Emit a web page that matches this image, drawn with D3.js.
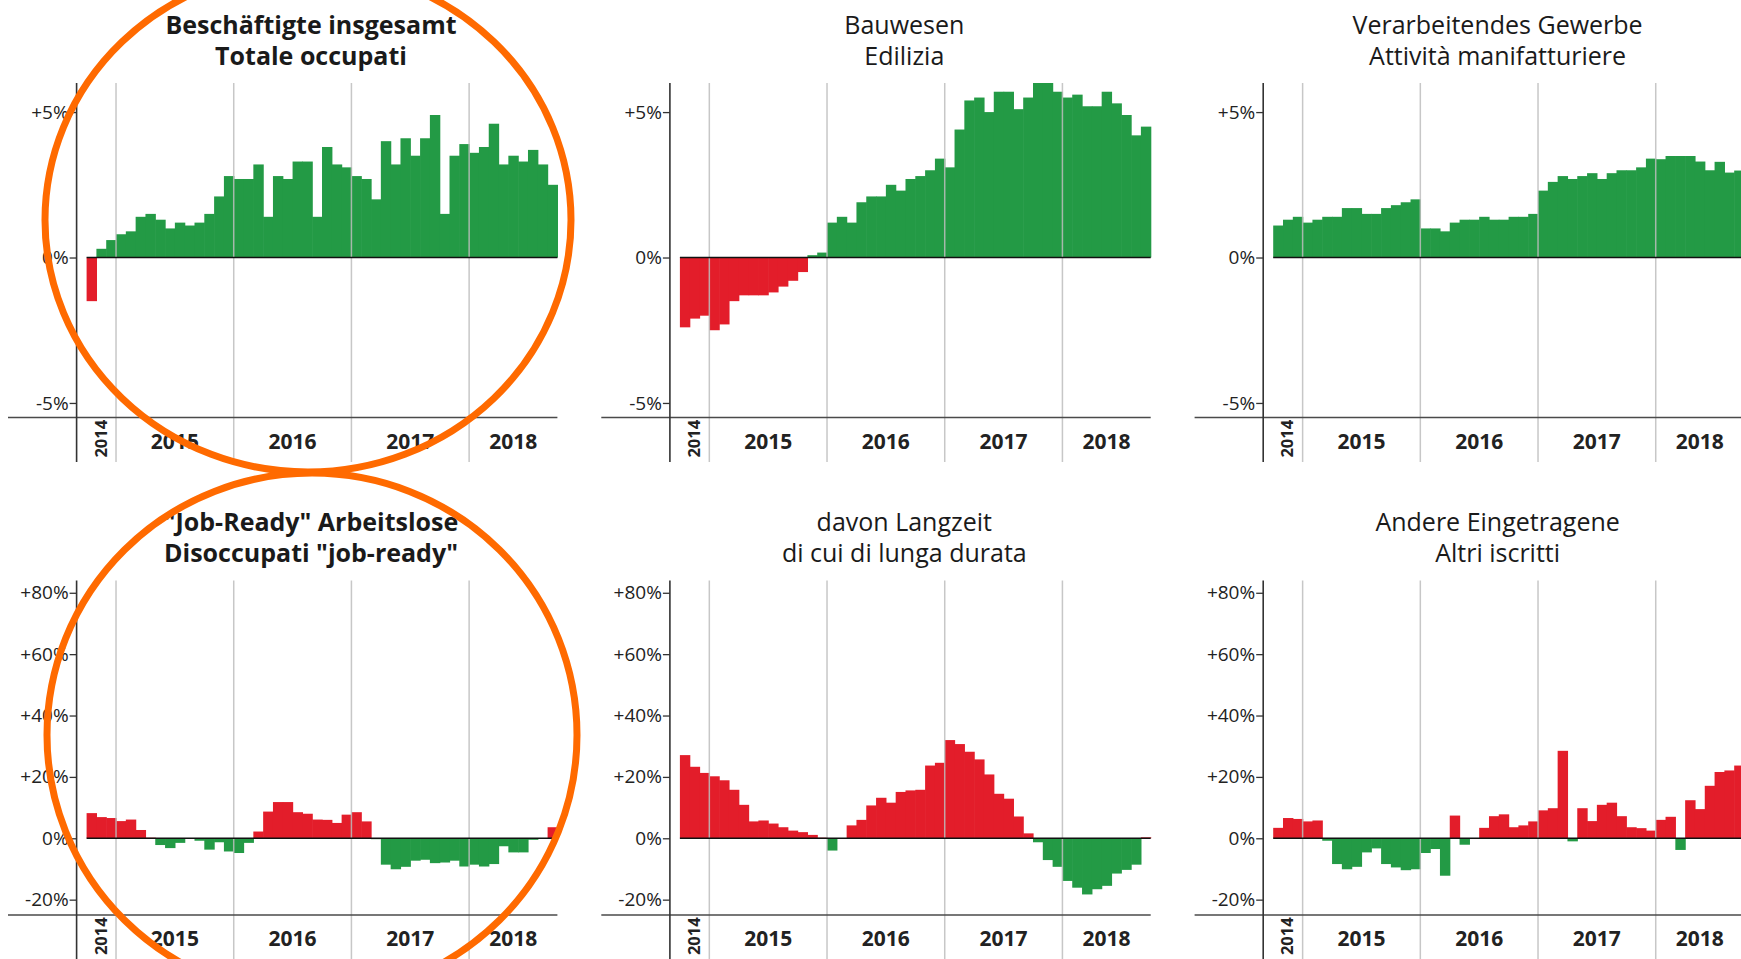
<!DOCTYPE html>
<html>
<head>
<meta charset="utf-8">
<script src="https://cdn.jsdelivr.net/npm/d3@7"></script>
<style>
html,body{margin:0;padding:0;background:#fff;overflow:hidden}
svg{display:block}
</style>
</head>
<body>
<svg id="chart" width="1741" height="959"></svg>
<script>
// ---------- data ----------
const months = [
  "2014-10","2014-11","2014-12",
  "2015-01","2015-02","2015-03","2015-04","2015-05","2015-06","2015-07","2015-08","2015-09","2015-10","2015-11","2015-12",
  "2016-01","2016-02","2016-03","2016-04","2016-05","2016-06","2016-07","2016-08","2016-09","2016-10","2016-11","2016-12",
  "2017-01","2017-02","2017-03","2017-04","2017-05","2017-06","2017-07","2017-08","2017-09","2017-10","2017-11","2017-12",
  "2018-01","2018-02","2018-03","2018-04","2018-05","2018-06","2018-07","2018-08","2018-09"
];
const years = ["2014","2015","2016","2017","2018"];

const ticksEmployment = [-5, 0, 5];
const ticksUnemployment = [-20, 0, 20, 40, 60, 80];
const domainEmployment = [-5.5, 6];
const domainUnemployment = [-25, 84];

// Beschäftigte insgesamt / Totale occupati (% vs. Vorjahr)
const employmentTotal = [
  -1.5, 0.3, 0.6,
  0.8, 0.9, 1.4, 1.5, 1.3, 1.0, 1.2, 1.1, 1.2, 1.5, 2.1, 2.8,
  2.7, 2.7, 3.2, 1.4, 2.8, 2.7, 3.3, 3.3, 1.4, 3.8, 3.2, 3.1,
  2.8, 2.7, 2.0, 4.0, 3.2, 4.1, 3.5, 4.1, 4.9, 1.5, 3.5, 3.9,
  3.6, 3.8, 4.6, 3.2, 3.5, 3.3, 3.7, 3.2, 2.5
];
// Bauwesen / Edilizia
const construction = [
  -2.4, -2.1, -2.0,
  -2.5, -2.3, -1.5, -1.3, -1.3, -1.3, -1.2, -1.0, -0.8, -0.5, 0.08, 0.17,
  1.2, 1.4, 1.2, 1.9, 2.1, 2.1, 2.5, 2.3, 2.7, 2.8, 3.0, 3.4,
  3.1, 4.4, 5.4, 5.5, 5.0, 5.7, 5.7, 5.1, 5.5, 6.0, 6.0, 5.7,
  5.5, 5.6, 5.2, 5.2, 5.7, 5.3, 4.9, 4.2, 4.5
];
// Verarbeitendes Gewerbe / Attività manifatturiere
const manufacturing = [
  1.1, 1.3, 1.4,
  1.2, 1.3, 1.4, 1.4, 1.7, 1.7, 1.5, 1.5, 1.7, 1.8, 1.9, 2.0,
  1.0, 1.0, 0.9, 1.2, 1.3, 1.3, 1.4, 1.3, 1.3, 1.4, 1.4, 1.5,
  2.3, 2.6, 2.8, 2.7, 2.8, 2.9, 2.7, 2.9, 3.0, 3.0, 3.1, 3.4,
  3.38, 3.49, 3.49, 3.49, 3.3, 3.0, 3.29, 2.92, 2.99
];
// "Job-Ready" Arbeitslose / Disoccupati "job-ready"
const jobReady = [
  8.2, 6.9, 6.6,
  5.6, 6.1, 2.7, 0.2, -2.2, -3.2, -1.5, -0.2, -0.8, -3.7, -1.3, -4.3,
  -4.8, -1.5, 2.2, 8.7, 11.8, 11.8, 8.5, 8.0, 6.1, 6.0, 5.0, 7.7,
  8.5, 5.5, -0.3, -8.6, -10.1, -9.3, -7.3, -7.0, -8.1, -7.9, -7.3, -9.2,
  -8.6, -9.2, -8.4, -2.6, -4.6, -4.6, -0.5, -0.2, 3.6
];
// davon Langzeit / di cui di lunga durata
const longTerm = [
  27.1, 23.3, 21.3,
  20.2, 18.9, 15.8, 10.9, 5.5, 5.8, 4.8, 3.6, 2.5, 2.0, 1.1, 0.2,
  -4.0, 0.0, 4.2, 6.0, 10.7, 13.2, 11.6, 15.1, 15.6, 15.8, 23.7, 24.6,
  32.0, 30.7, 28.2, 25.7, 20.8, 14.5, 12.9, 7.1, 1.6, -1.3, -7.1, -9.3,
  -13.9, -16.1, -18.3, -16.6, -15.5, -11.5, -10.3, -8.6, 0.3
];
// Andere Eingetragene / Altri iscritti
const otherRegistered = [
  3.4, 6.6, 6.3,
  5.5, 5.8, -0.8, -8.4, -10.1, -9.3, -4.6, -3.3, -8.4, -9.5, -10.4, -10.1,
  -4.8, -3.5, -12.2, 7.4, -2.1, -0.1, 3.4, 7.2, 7.8, 3.6, 4.2, 5.5,
  9.1, 9.8, 28.5, -1.0, 9.8, 5.6, 10.9, 11.6, 7.2, 3.6, 3.3, 2.5,
  6.0, 7.0, -3.8, 12.4, 9.5, 17.1, 21.6, 22.1, 23.7
];

const panelTitles = [
  ["Beschäftigte insgesamt", "Totale occupati"],
  ["Bauwesen", "Edilizia"],
  ["Verarbeitendes Gewerbe", "Attività manifatturiere"],
  ["\"Job-Ready\" Arbeitslose", "Disoccupati \"job-ready\""],
  ["davon Langzeit", "di cui di lunga durata"],
  ["Andere Eingetragene", "Altri iscritti"]
];

// ---------- layout & style ----------
const colStep = 593.3, rowStep = 497.5;
const L = {
  axisX: 76.6, barX0: 86.6, barX1: 557.4,
  top: 83, bottom: 417.5, axisBottom: 462, baseLeft: 8,
  titleX: 311, title1Y: 33.5, title2Y: 64.5,
  yearY: 448.5, year14Y: 438.7
};
const GREEN = "#239a45", RED = "#e31d2a", RING = "#ff6a00";
const FONT = "'Open Sans', 'Noto Sans', sans-serif";

const panels = [
  {t: panelTitles[0], bold: true,  values: employmentTotal, row: 0, col: 0, good: 1},
  {t: panelTitles[1], bold: false, values: construction,    row: 0, col: 1, good: 1},
  {t: panelTitles[2], bold: false, values: manufacturing,   row: 0, col: 2, good: 1},
  {t: panelTitles[3], bold: true,  values: jobReady,        row: 1, col: 0, good: -1},
  {t: panelTitles[4], bold: false, values: longTerm,        row: 1, col: 1, good: -1},
  {t: panelTitles[5], bold: false, values: otherRegistered, row: 1, col: 2, good: -1}
];

const fmtPct = v => (v > 0 ? "+" : "") + v + "%";

const svg = d3.select("#chart");

panels.forEach(p => {
  const g = svg.append("g")
    .attr("transform", `translate(${p.col * colStep},${p.row * rowStep})`);

  const x = d3.scaleBand().domain(months).range([L.barX0, L.barX1]).padding(0);
  const y = d3.scaleLinear()
    .domain(p.row === 0 ? domainEmployment : domainUnemployment)
    .range([L.bottom, L.top]);
  const ticks = p.row === 0 ? ticksEmployment : ticksUnemployment;

  // bars
  g.append("g").selectAll("rect")
    .data(p.values.map((v, i) => ({m: months[i], v})))
    .join("rect")
    .attr("x", d => x(d.m))
    .attr("width", x.bandwidth() + 0.6)
    .attr("y", d => Math.min(y(d.v), y(0)))
    .attr("height", d => Math.abs(y(d.v) - y(0)))
    .attr("fill", d => (d.v * p.good > 0 ? GREEN : RED));

  // year separators
  const yearStarts = months.filter(m => m.endsWith("-01"));
  g.append("g").selectAll("line")
    .data(yearStarts)
    .join("line")
    .attr("x1", m => x(m)).attr("x2", m => x(m))
    .attr("y1", L.top).attr("y2", L.axisBottom)
    .attr("stroke", "#bdbdbd").attr("stroke-opacity", 0.85).attr("stroke-width", 1.5);

  // zero line
  g.append("line")
    .attr("x1", L.barX0).attr("x2", L.barX1)
    .attr("y1", y(0)).attr("y2", y(0))
    .attr("stroke", "#111").attr("stroke-width", 1.6);

  // bottom base line
  g.append("line")
    .attr("x1", L.baseLeft).attr("x2", L.barX1)
    .attr("y1", L.bottom).attr("y2", L.bottom)
    .attr("stroke", "#4a4a4a").attr("stroke-width", 1.6);

  // y axis line
  g.append("line")
    .attr("x1", L.axisX).attr("x2", L.axisX)
    .attr("y1", L.top).attr("y2", L.axisBottom)
    .attr("stroke", "#333").attr("stroke-width", 1.6);

  // y ticks
  const ax = g.append("g")
    .attr("transform", `translate(${L.axisX},0)`)
    .call(d3.axisLeft(y).tickValues(ticks).tickSize(7).tickPadding(1).tickFormat(fmtPct));
  ax.select(".domain").remove();
  ax.selectAll(".tick line").attr("stroke", "#333").attr("stroke-width", 1.3);
  ax.selectAll(".tick text")
    .attr("fill", "#222")
    .style("font-family", FONT).style("font-size", "19px");

  // year labels
  years.forEach(yr => {
    const ms = months.filter(m => m.startsWith(yr));
    const cx = (x(ms[0]) + x(ms[ms.length - 1]) + x.bandwidth()) / 2;
    if (ms.length < 6) {
      g.append("text")
        .attr("transform", `translate(${cx + 5.5},${L.year14Y}) rotate(-90)`)
        .attr("text-anchor", "middle")
        .style("font-family", FONT).style("font-size", "16.5px").style("font-weight", 700)
        .attr("fill", "#222")
        .text(yr);
    } else {
      g.append("text")
        .attr("x", cx).attr("y", L.yearY)
        .attr("text-anchor", "middle")
        .style("font-family", FONT).style("font-size", "21px").style("font-weight", 700)
        .attr("fill", "#222")
        .text(yr);
    }
  });

  // titles
  [L.title1Y, L.title2Y].forEach((ty, k) => {
    g.append("text")
      .attr("x", L.titleX).attr("y", ty)
      .attr("text-anchor", "middle")
      .style("font-family", FONT).style("font-size", "25px")
      .style("font-weight", p.bold ? 700 : 400)
      .attr("fill", "#1a1a1a")
      .text(p.t[k]);
  });
});

// ---------- hand-drawn highlight rings (annotation) ----------
const rings = [
  {cx: 308, cy: 220, rx: 263, ry: 252},
  {cx: 312, cy: 735, rx: 265, ry: 262}
];
svg.append("g").selectAll("ellipse")
  .data(rings)
  .join("ellipse")
  .attr("cx", d => d.cx).attr("cy", d => d.cy)
  .attr("rx", d => d.rx).attr("ry", d => d.ry)
  .attr("fill", "none")
  .attr("stroke", RING)
  .attr("stroke-width", 7);
</script>
</body>
</html>
